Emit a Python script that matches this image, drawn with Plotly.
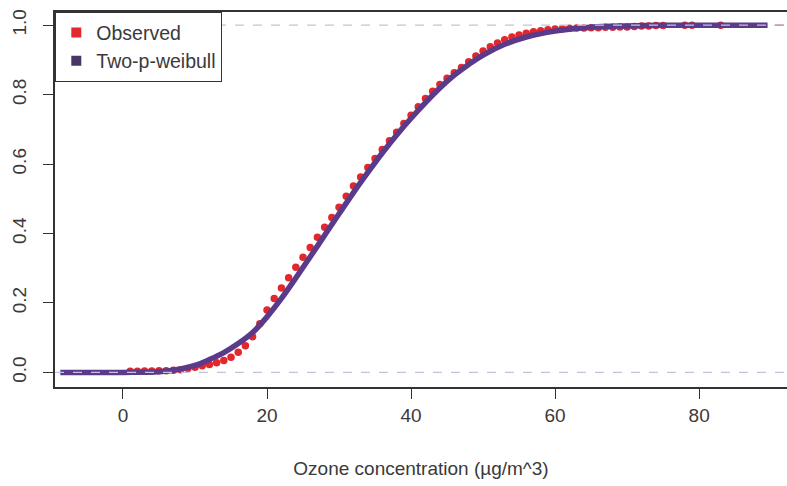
import plotly.graph_objects as go

# ---- data ----
obs_x = list(range(1, 76)) + [78, 79, 83]
obs_y = [0.003, 0.003, 0.004, 0.004, 0.005, 0.005, 0.006, 0.008, 0.011, 0.015,
         0.019, 0.023, 0.028, 0.034, 0.044, 0.058, 0.077, 0.103, 0.140, 0.180,
         0.213, 0.243, 0.273, 0.303, 0.332, 0.360, 0.389, 0.418, 0.446, 0.476,
         0.507, 0.537, 0.563, 0.590, 0.616, 0.642, 0.667, 0.692, 0.717, 0.741,
         0.765, 0.789, 0.810, 0.829, 0.847, 0.863, 0.878, 0.895, 0.911, 0.926,
         0.938, 0.949, 0.958, 0.966, 0.972, 0.977, 0.981, 0.984, 0.987, 0.989,
         0.990, 0.991, 0.992, 0.992, 0.993, 0.993, 0.994, 0.994, 0.995, 0.995,
         0.996, 0.998, 0.998, 0.999, 0.999, 1.0, 1.0, 1.0]

fit_x = [-8.7, 0, 5, 8, 10, 12, 14, 16, 18, 20, 22, 24, 26, 28, 30, 32, 34, 36,
         38, 40, 42, 44, 46, 48, 50, 53, 56, 60, 65, 70, 75, 80, 89.5]
fit_y = [0.0, 0.0, 0.002, 0.010, 0.020, 0.037, 0.057, 0.083, 0.115, 0.160,
         0.213, 0.272, 0.333, 0.395, 0.457, 0.518, 0.576, 0.632, 0.684, 0.732,
         0.777, 0.819, 0.856, 0.887, 0.914, 0.945, 0.966, 0.983, 0.994, 0.998,
         1.0, 1.0, 1.0]

x_ticks = [0, 20, 40, 60, 80]
y_ticks = [0.0, 0.2, 0.4, 0.6, 0.8, 1.0]
x_range = [-9.44, 92.2]
y_range = [-0.042, 1.038]

RED = "#e2282c"
PURPLE = "#5a3a8a"
TXT = "#3a3a3a"
FONT = "Liberation Sans, Arial, sans-serif"

fig = go.Figure()

# ecdf horizontal continuation (dashed red) beyond last observation
fig.add_trace(go.Scatter(x=[obs_x[-1], x_range[1]], y=[1.0, 1.0], mode="lines",
                         line=dict(color=RED, width=1.5, dash="dash"),
                         showlegend=False, hoverinfo="skip"))
fig.add_trace(go.Scatter(x=obs_x, y=obs_y, mode="markers",
                         marker=dict(color=RED, size=7.5, symbol="circle"),
                         showlegend=False, name="Observed"))
fig.add_trace(go.Scatter(x=fit_x, y=fit_y, mode="lines",
                         line=dict(color=PURPLE, width=5.5, shape="spline"),
                         showlegend=False, name="Two-p-weibull"))

# legend entries (square keys)
fig.add_trace(go.Scatter(x=[None], y=[None], mode="markers", name="Observed",
                         marker=dict(color=RED, size=10, symbol="square")))
fig.add_trace(go.Scatter(x=[None], y=[None], mode="markers", name="Two-p-weibull",
                         marker=dict(color="#4a3568", size=10, symbol="square")))

# dashed reference lines at 0 and 1
for yv in (0.0, 1.0):
    fig.add_shape(type="line", xref="paper", yref="y", x0=0, x1=1, y0=yv, y1=yv,
                  line=dict(color="#c3c3dd", width=1.2, dash="dash"), layer="above")

fig.update_layout(
    width=787, height=486,
    margin=dict(l=55, r=0, t=12, b=99),
    paper_bgcolor="white", plot_bgcolor="white",
    font=dict(family=FONT, color=TXT, size=19),
    legend=dict(x=0, y=1, xanchor="left", yanchor="top",
                bgcolor="white", bordercolor="#333333", borderwidth=1.3,
                font=dict(size=19.5, color=TXT), tracegroupgap=0,
                itemwidth=30),
    xaxis=dict(range=x_range, tickvals=x_ticks, ticks="outside", ticklen=10,
               tickwidth=1.3, tickcolor="#333333", showline=True, linecolor="#333333",
               linewidth=1.5, mirror=True, showgrid=False, zeroline=False,
               tickfont=dict(size=19, color=TXT),
               title=dict(text="Ozone concentration (µg/m^3)", standoff=37,
                          font=dict(size=19, color=TXT))),
    yaxis=dict(range=y_range, tickvals=y_ticks, tickformat=".1f", ticks="outside",
               ticklen=10, tickwidth=1.3, tickcolor="#333333", showline=True,
               linecolor="#333333", linewidth=1.5, mirror=False, showgrid=False,
               zeroline=False, tickangle=-90, ticklabelstandoff=10,
               tickfont=dict(size=19, color=TXT)),
)

fig.write_html("out.html")
